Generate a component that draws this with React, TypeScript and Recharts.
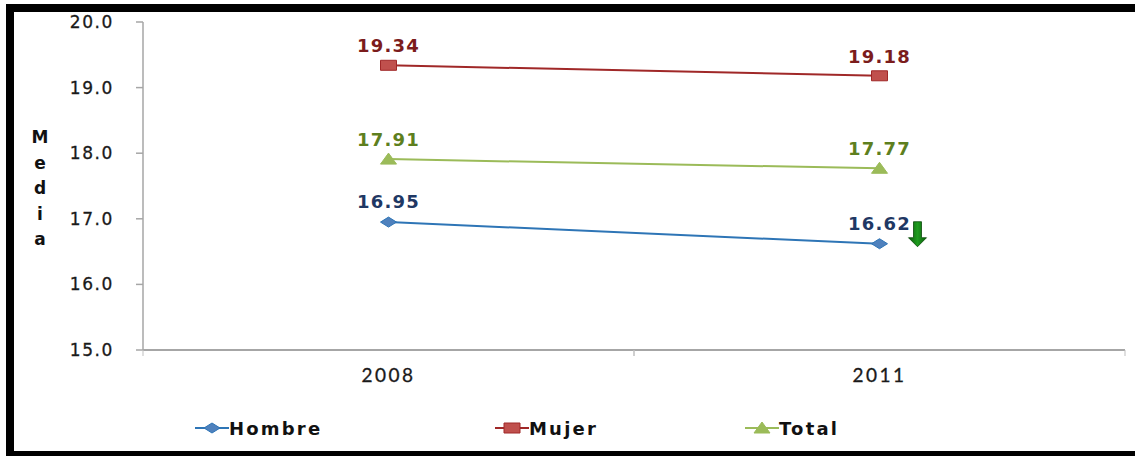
import React from 'react';
import { LineChart, Line, XAxis, YAxis, Legend, LabelList } from 'recharts';

const years = ['2008', '2011'];
const hombre = [16.95, 16.62];
const mujer = [19.34, 19.18];
const total = [17.91, 17.77];
const yTicks = [15, 16, 17, 18, 19, 20];
const axisTitle = ['M', 'e', 'd', 'i', 'a'];

const chartData = years.map((year, i) => ({
  year,
  Hombre: hombre[i],
  Mujer: mujer[i],
  Total: total[i],
}));

const SERIES = {
  Hombre: { line: '#2E75B6', fill: '#4F81BD', label: '#1F3864', shape: 'diamond' },
  Mujer: { line: '#A02828', fill: '#C0504D', label: '#7B1C1C', shape: 'square' },
  Total: { line: '#9BBB59', fill: '#9BBB59', label: '#5E7F1E', shape: 'triangle' },
} as const;

type SeriesKey = keyof typeof SERIES;

const markerPath = (shape: string, cx: number, cy: number) => {
  const w = 8;
  const h = 5;
  if (shape === 'diamond') return `M${cx - w},${cy} L${cx},${cy - h} L${cx + w},${cy} L${cx},${cy + h} Z`;
  if (shape === 'square') return `M${cx - w},${cy - h} H${cx + w} V${cy + h} H${cx - w} Z`;
  return `M${cx - w},${cy + h} L${cx},${cy - h - 1} L${cx + w},${cy + h} Z`;
};

const makeDot = (key: SeriesKey) => (props: any) => {
  const { cx, cy, index } = props;
  const s = SERIES[key];
  return (
    <path
      key={`${key}-dot-${index}`}
      d={markerPath(s.shape, cx, cy)}
      fill={s.fill}
      stroke={s.line}
      strokeWidth={1}
    />
  );
};

const makeLabel = (key: SeriesKey, lift: number) => (props: any) => {
  const { x, y, value, index } = props;
  const s = SERIES[key];
  const isLastMale = key === 'Hombre' && index === hombre.length - 1;
  return (
    <g key={`${key}-label-${index}`}>
      <text
        x={x}
        y={y - lift}
        textAnchor="middle"
        fill={s.label}
        fontFamily="DejaVu Sans"
        fontWeight="bold"
        fontSize={18}
        letterSpacing={1.2}
      >
        {value.toFixed(2)}
      </text>
      {/* falling-trend arrow beside the last male value */}
      {isLastMale && (
        <defs>
          <linearGradient id="arrowGreen" x1="0" y1="0" x2="1" y2="0">
            <stop offset="0%" stopColor="#0B5E0B" />
            <stop offset="50%" stopColor="#1E9B1E" />
            <stop offset="100%" stopColor="#0B5E0B" />
          </linearGradient>
        </defs>
      )}
      {isLastMale && (
        <path
          d={`M${x + 34},${y - 22} h8 v16 h5 l-9,9 l-9,-9 h5 Z`}
          fill="url(#arrowGreen)"
          stroke="#0A4A0A"
          strokeWidth={0.8}
        />
      )}
    </g>
  );
};

const YTick = (props: any) => {
  const { x, y, payload } = props;
  return (
    <text
      x={x}
      y={y}
      dy={6}
      textAnchor="end"
      fill="#1a1a1a"
      fontFamily="DejaVu Sans"
      fontSize={17}
      letterSpacing={1.6}
      stroke="#1a1a1a"
      strokeWidth={0.3}
    >
      {payload.value.toFixed(1)}
    </text>
  );
};

const XTick = (props: any) => {
  const { x, y, payload } = props;
  const half = payload.offset || 0;
  return (
    <g>
      <line x1={x - half} x2={x - half} y1={y - 8} y2={y - 2} stroke="#BFBFBF" />
      <line x1={x + half} x2={x + half} y1={y - 8} y2={y - 2} stroke="#BFBFBF" />
      <text
        x={x}
        y={y + 24}
        textAnchor="middle"
        fill="#1a1a1a"
        fontFamily="Lato"
        fontSize={19}
        letterSpacing={2.5}
        stroke="#1a1a1a"
        strokeWidth={0.3}
      >
        {payload.value}
      </text>
    </g>
  );
};

const AxisTitle = () => (
  <text
    x={40}
    y={143}
    textAnchor="middle"
    fill="#111"
    fontFamily="DejaVu Sans"
    fontWeight="bold"
    fontSize={17}
  >
    {axisTitle.map((ch, i) => (
      <tspan key={i} x={40} dy={i === 0 ? 0 : 25.5}>
        {ch}
      </tspan>
    ))}
  </text>
);

const legendWidths = [300, 250, 200];

const LegendContent = (props: any) => {
  const { payload } = props;
  return (
    <div style={{ display: 'flex', paddingLeft: 195, height: 44, paddingBottom: 6, alignItems: 'center' }}>
      {payload.map((entry: any, i: number) => {
        const s = SERIES[entry.value as SeriesKey];
        return (
          <div key={entry.value} style={{ display: 'flex', alignItems: 'center', width: legendWidths[i] }}>
            <svg width={34} height={14}>
              <line x1={0} x2={34} y1={7} y2={7} stroke={s.line} strokeWidth={2} />
              <path d={markerPath(s.shape, 17, 7)} fill={s.fill} stroke={s.line} strokeWidth={1} />
            </svg>
            <span
              style={{
                fontFamily: 'DejaVu Sans',
                fontWeight: 'bold',
                fontSize: 18,
                letterSpacing: 2.2,
                color: '#111',
              }}
            >
              {entry.value}
            </span>
          </div>
        );
      })}
    </div>
  );
};

const App = () => {
  const keys: SeriesKey[] = ['Hombre', 'Mujer', 'Total'];
  return (
    <div style={{ position: 'relative', width: 1135, height: 456, background: '#fff' }}>
      <style>{'body{margin:0}'}</style>
      <LineChart
        width={1135}
        height={456}
        data={chartData}
        margin={{ top: 22, right: 10, left: 0, bottom: 0 }}
      >
        <XAxis
          dataKey="year"
          scale="band"
          height={56}
          stroke="#A6A6A6"
          strokeWidth={2}
          tickLine={false}
          tick={<XTick />}
        />
        <YAxis
          domain={[15, 20]}
          ticks={yTicks}
          width={143}
          stroke="#A6A6A6"
          strokeWidth={1.5}
          tickSize={7}
          tickMargin={22}
          tick={<YTick />}
          label={<AxisTitle />}
        />
        <Legend verticalAlign="bottom" height={50} content={<LegendContent />} />
        {keys.map((key) => (
          <Line
            key={key}
            dataKey={key}
            type="linear"
            stroke={SERIES[key].line}
            strokeWidth={2}
            dot={makeDot(key)}
            activeDot={false}
            isAnimationActive={false}
          >
            <LabelList dataKey={key} content={makeLabel(key, key === 'Hombre' ? 14 : 13)} />
          </Line>
        ))}
      </LineChart>
      {/* frame */}
      <div style={{ position: 'absolute', left: 6, top: 4, width: 1129, height: 8, background: '#000' }} />
      <div style={{ position: 'absolute', left: 6, top: 4, width: 8, height: 452, background: '#000' }} />
      <div style={{ position: 'absolute', left: 6, top: 451, width: 1129, height: 5, background: '#000' }} />
    </div>
  );
};

export default App;
